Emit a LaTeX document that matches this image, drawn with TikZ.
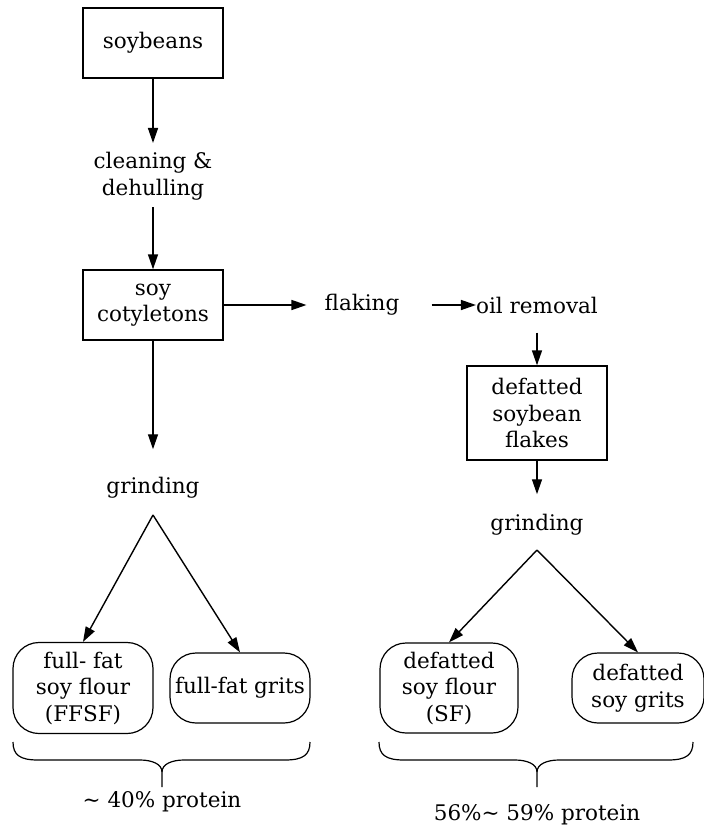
\documentclass[tikz,border=0pt]{standalone}
\usepackage{fontspec}
\setmainfont{DejaVu Serif}
\usetikzlibrary{arrows.meta}
\begin{document}
\begin{tikzpicture}[x=1pt,y=-1pt,
  every node/.style={font=\fontsize{21.5}{26.5}\selectfont, align=center, inner sep=0pt},
  box/.style={draw, line width=1.4pt, minimum width=140pt},
  rbox/.style={draw, line width=1.2pt, rounded corners=26pt},
  arr/.style={line width=1.4pt, -{Triangle[length=15pt,width=10pt]}},
  brace/.style={line width=1.2pt}]
\useasboundingbox (0,0) rectangle (704,828);
\node[box, minimum height=70pt] (soy) at (153,43) {soybeans};
\node (clean) at (153,176) {cleaning \&\\dehulling};
\node[box, minimum height=70pt] (coty) at (153,305) {soy\\cotyletons};
\node (flak) at (362,305) {flaking};
\node (oil) at (537,305) {oil removal};
\node[box, minimum height=94pt] (dsf) at (537,413) {defatted\\soybean\\flakes};
\node (grL) at (153,488) {grinding};
\node (grR) at (537,525) {grinding};
\node[rbox, minimum width=140pt, minimum height=91pt] (ffsf) at (83,688) {full- fat\\soy flour\\(FFSF)};
\node[rbox, minimum width=140pt, minimum height=70pt] (ffg) at (240,688) {full-fat grits};
\node[rbox, minimum width=138pt, minimum height=90pt] (dsfl) at (449,688) {defatted\\soy flour\\(SF)};
\node[rbox, minimum width=132pt, minimum height=70pt] (dsg) at (638,688) {defatted\\soy grits};
\node (p1) at (162,802) {\textasciitilde{} 40\% protein};
\node (p2) at (537,815) {56\%\textasciitilde{} 59\% protein};
\coordinate (aL) at (153,515);
\coordinate (aR) at (537,550);
% arrows
\draw[arr, shorten >=9pt] (soy) -- (clean);
\draw[arr, shorten <=7pt] (clean) -- (coty);
\draw[arr, shorten >=18pt] (coty) -- (flak);
\draw[arr, shorten <=32pt] (flak) -- (oil);
\draw[arr, shorten <=19pt] (oil) -- (dsf);
\draw[arr, shorten >=28pt] (coty) -- (grL);
\draw[arr, shorten >=20pt] (dsf) -- (grR);
\draw[arr] (aL) -- (ffsf.north);
\draw[arr] (aL) -- (ffg.north);
\draw[arr] (aR) -- (dsfl.north);
\draw[arr] (aR) -- (dsg.north);
% braces
\draw[brace] (13,742) .. controls (13,755) and (20,760) .. (38,760) -- (140,760) .. controls (152,760) and (162,764) .. (162,772) -- (162,787);
\draw[brace] (310,742) .. controls (310,755) and (303,760) .. (285,760) -- (184,760) .. controls (172,760) and (162,764) .. (162,772);
\draw[brace] (379,742) .. controls (379,755) and (386,760) .. (404,760) -- (515,760) .. controls (527,760) and (537,764) .. (537,772) -- (537,787);
\draw[brace] (693,742) .. controls (693,755) and (686,760) .. (668,760) -- (559,760) .. controls (547,760) and (537,764) .. (537,772);
\end{tikzpicture}
\end{document}
